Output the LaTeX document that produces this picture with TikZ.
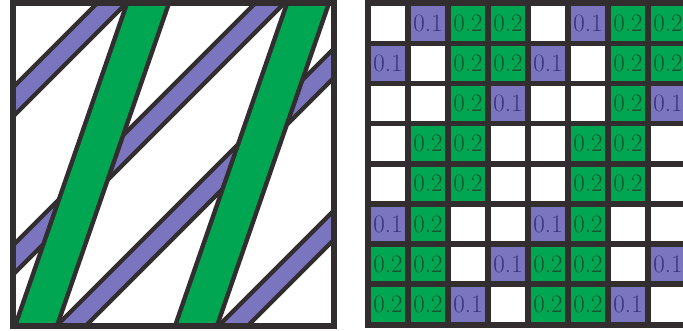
\documentclass[tikz,border=0pt]{standalone}
\definecolor{dk}{RGB}{50,46,48}
\definecolor{gr}{RGB}{0,166,81}
\definecolor{pu}{RGB}{122,117,190}
\definecolor{grt}{RGB}{22,85,48}
\definecolor{put}{RGB}{55,50,120}
\begin{document}
\begin{tikzpicture}[x=1pt,y=-1pt,
  poutline/.style={line width=25pt, draw=dk},
  pstripe/.style={line width=16pt, draw=pu},
  goutline/.style={line width=44pt, draw=dk},
  gstripe/.style={line width=35pt, draw=gr},
  frame/.style={line width=6pt, draw=dk},
  cell/.style={minimum width=34pt, minimum height=34.5pt, inner sep=0pt,
    font=\fontsize{25}{25}\selectfont},
  cellW/.style={cell, fill=white},
  cellP/.style={cell, fill=pu, text=put},
  cellG/.style={cell, fill=gr, text=grt}]
\useasboundingbox (0,0) rectangle (683,330);
\def\txtW{}\def\txtP{0.1}\def\txtG{0.2}
% left panel
\begin{scope}
  \clip (13,3) rectangle (334,326);
  \fill[white] (13,3) rectangle (334,326);
  \foreach \c [count=\i] in {115,273,397,559} {
    \coordinate (pa\i) at (\c+30,-30);
    \coordinate (pb\i) at (\c-360,360);
    \draw[poutline] (pa\i) -- (pb\i);
    \draw[pstripe] (pa\i) -- (pb\i);
  }
  \foreach \s [count=\i] in {0,160} {
    \coordinate (ga\i) at (159.5+\s,-30);
    \coordinate (gb\i) at (24.2+\s,360);
    \draw[goutline] (ga\i) -- (gb\i);
    \draw[gstripe] (ga\i) -- (gb\i);
  }
\end{scope}
\draw[frame] (13,3) rectangle (334,326);
% right panel
\begin{scope}
  \clip (0,0) rectangle (683,330);
  \fill[dk] (365,0) rectangle (700,328);
  \foreach \row [count=\r] in {
    {W,P,G,G,W,P,G,G},
    {P,W,G,G,P,W,G,G},
    {W,W,G,P,W,W,G,P},
    {W,G,G,W,W,G,G,W},
    {W,G,G,W,W,G,G,W},
    {P,G,W,W,P,G,W,W},
    {G,G,W,P,G,G,W,P},
    {G,G,P,W,G,G,P,W}} {
    \foreach \t [count=\c] in \row {
      \node[cell\t] (c-\r-\c) at ({388+40*(\c-1)},{23.25+40.15*(\r-1)}) {\csname txt\t\endcsname};
    }
  }
\end{scope}
\end{tikzpicture}
\end{document}
